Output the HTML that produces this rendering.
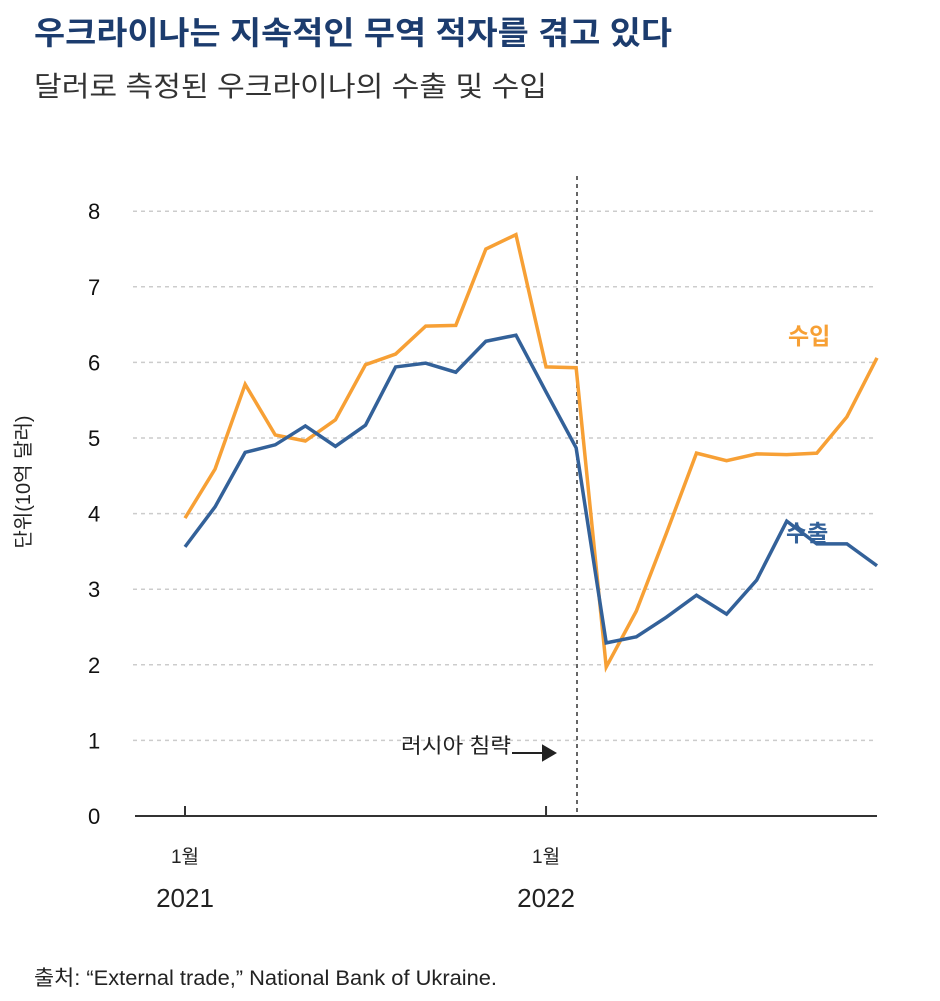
<!DOCTYPE html>
<html><head><meta charset="utf-8"><style>
body{margin:0;background:#fff;width:940px;height:996px;overflow:hidden;font-family:"Liberation Sans","Noto Sans CJK KR",sans-serif}
</style></head><body>
<svg id="c" width="940" height="996" xmlns="http://www.w3.org/2000/svg" style="font-family:'Liberation Sans','Noto Sans CJK KR',sans-serif">
<text x="34" y="44" font-size="32" font-weight="bold" fill="#1c3c6e" textLength="638" lengthAdjust="spacingAndGlyphs">우크라이나는 지속적인 무역 적자를 겪고 있다</text>
<text x="34" y="96" font-size="28" fill="#333" textLength="513" lengthAdjust="spacingAndGlyphs">달러로 측정된 우크라이나의 수출 및 수입</text>
<text transform="translate(30,482) rotate(-90)" text-anchor="middle" font-size="20" fill="#222">단위(10억 달러)</text>
<g id="grid"></g>
<line x1="577" y1="176" x2="577" y2="816" stroke="#666" stroke-width="2" stroke-dasharray="4,4"/>
<line x1="135" y1="816" x2="877" y2="816" stroke="#333" stroke-width="2"/>
<text x="401" y="753" font-size="21" fill="#222" textLength="110" lengthAdjust="spacingAndGlyphs">러시아 침략</text>
<path d="M512 753 H545 M543 746 L555 753 L543 760 Z" stroke="#222" stroke-width="2" fill="#222"/>
<g id="series"></g>
<text x="788" y="344" font-size="23" font-weight="bold" fill="#f7a035">수입</text>
<text x="786" y="541" font-size="23" font-weight="bold" fill="#336199">수출</text>
<text x="34" y="985" font-size="21" fill="#222" textLength="463" lengthAdjust="spacingAndGlyphs">출처: “External trade,” National Bank of Ukraine.</text>
</svg>
<script>
const months=["2021-01","2021-02","2021-03","2021-04","2021-05","2021-06","2021-07","2021-08","2021-09","2021-10","2021-11","2021-12","2022-01","2022-02","2022-03","2022-04","2022-05","2022-06","2022-07","2022-08","2022-09","2022-10","2022-11","2022-12"];
const imports=[3.94,4.59,5.71,5.04,4.96,5.24,5.97,6.11,6.48,6.49,7.5,7.69,5.94,5.93,1.97,2.71,3.74,4.8,4.7,4.79,4.78,4.8,5.28,6.06];
const exportsV=[3.56,4.09,4.81,4.91,5.16,4.89,5.17,5.94,5.99,5.87,6.28,6.36,5.61,4.87,2.29,2.37,2.63,2.92,2.67,3.12,3.9,3.6,3.6,3.31];
const yTicks=[0,1,2,3,4,5,6,7,8];
const xTickLabels=[{i:0,m:"1월",y:"2021"},{i:12,m:"1월",y:"2022"}];
const NS="http://www.w3.org/2000/svg";
const X=i=>185+i*(877-185)/23;
const Y=v=>816-v*75.6;
const grid=document.getElementById('grid');
function mk(t,a,p){const e=document.createElementNS(NS,t);for(const k in a)e.setAttribute(k,a[k]);p.appendChild(e);return e;}
yTicks.forEach(v=>{
 if(v>0){const l=mk('line',{x1:133,x2:877,y1:Y(v),y2:Y(v),stroke:'#ccc','stroke-width':1.5,'stroke-dasharray':'4,4'},grid);
 
 }
 const t=mk('text',{x:88,y:Y(v)+8,'font-size':22,fill:'#111'},grid);t.textContent=v;
 
 
});
xTickLabels.forEach(d=>{
 const x=X(d.i);
 const l=mk('line',{x1:x,x2:x,y1:806,y2:816,stroke:'#333','stroke-width':2},grid);
 
 
 const t=mk('text',{x:x,y:863,'font-size':19,fill:'#222','text-anchor':'middle'},grid);t.textContent=d.m;
 
 
 const t2=mk('text',{x:x,y:907,'font-size':26,fill:'#222','text-anchor':'middle'},grid);t2.textContent=d.y;
 
 
});
const s=document.getElementById('series');
[[imports,'#f7a035','imports-line'],[exportsV,'#336199','exports-line']].forEach(([arr,c,n])=>{
 const p=mk('path',{d:arr.map((v,i)=>(i?'L':'M')+X(i)+' '+Y(v)).join(' '),stroke:c,'stroke-width':3.5,fill:'none','stroke-linejoin':'miter'},s);
 
 
});
</script>
</body></html>
